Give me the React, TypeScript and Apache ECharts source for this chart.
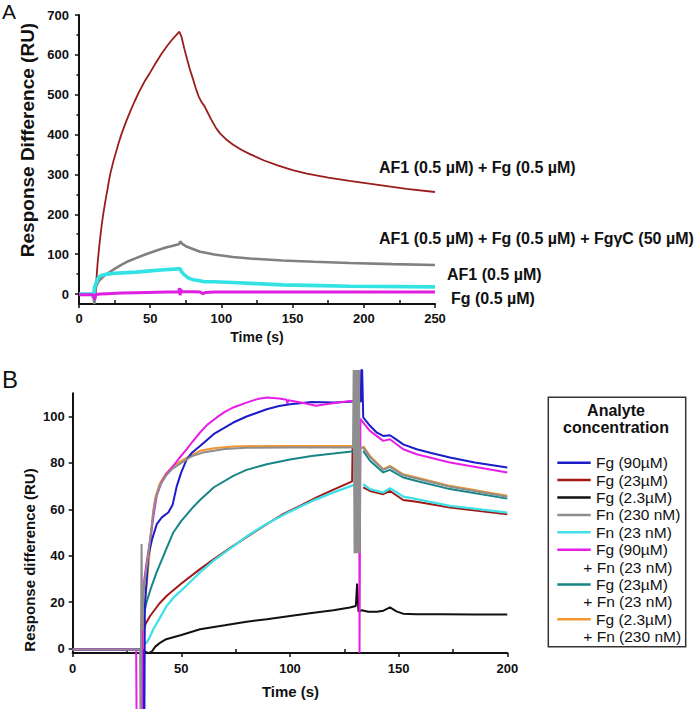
import React, { useEffect, useRef } from "react";
import * as echarts from "echarts";

// ---------- Panel A data: [time (s), response difference (RU)] ----------
const A_Y_TICKS = [0, 100, 200, 300, 400, 500, 600, 700];
const A_Y_MINOR = [50, 150, 250, 350, 450, 550, 650];
const A_X_MINOR = [25, 75, 125, 175, 225];

const A_AF1_FG = [
  [0, 0], [11, 0], [11.5, -12], [12, 25], [12.5, 50], [13, 75], [14, 112], [15, 145], [16, 175],
  [17, 200], [18, 222], [19, 243], [20, 262], [21, 284], [22, 302], [24, 331], [26, 356], [28, 381],
  [30, 403], [33, 432], [36, 458], [39, 483], [42, 506], [46, 533], [50, 556], [54, 580], [58, 603],
  [62, 623], [66, 641], [70.5, 658], [72, 645], [74, 615], [76, 588], [78, 562], [80, 540], [82, 516],
  [84, 496], [86, 482], [88, 472], [90, 458], [93, 437], [96, 418], [99, 403], [103, 389], [108, 375],
  [114, 362], [120, 351], [130, 335], [140, 322], [150, 311], [160, 302], [175, 292], [190, 284],
  [210, 274], [230, 264], [250, 256],
];
const A_AF1_FG_FGYC = [
  [0, 0], [10, 0], [10.8, -25], [11.5, 5], [12, 18], [13, 27], [14, 33], [16, 40], [18, 47], [21, 54],
  [25, 63], [30, 74], [35, 83], [40, 90], [47, 100], [55, 110], [61, 117], [66, 121], [70, 125],
  [71.3, 132], [72, 127], [75, 120], [80, 113], [85, 106], [88, 104], [95, 99], [108, 93], [120, 89],
  [143, 84], [165, 81], [190, 78], [220, 75], [250, 73],
];
const A_AF1 = [
  [0, 0], [9.5, 0], [10, -10], [10.5, 5], [11, 18], [12, 28], [13, 37], [14, 43], [16, 47], [20, 50],
  [25, 52], [30, 53], [40, 55], [50, 58], [60, 61], [70, 63], [71, 64], [72, 56], [74, 48], [77, 40],
  [80, 36], [84, 34], [88, 31], [95, 31], [108, 29], [125, 26], [143, 23], [170, 21], [190, 19.5],
  [250, 18],
];
const A_FG = [
  [0, -2], [10, -2], [10.5, -8], [11, -14], [11.5, -4], [12, -1], [15, 0], [20, 1], [30, 2.5],
  [40, 3.5], [55, 4.5], [70, 5.5], [70.6, 15], [71, -3], [71.5, 12], [72, 6], [80, 6], [85, 5],
  [87, 1], [89, 4], [95, 5], [150, 5], [250, 5],
];
const A_LABELS = [
  "AF1 (0.5 µM) + Fg (0.5 µM)",
  "AF1 (0.5 µM) + Fg (0.5 µM) + FgγC (50 µM)",
  "AF1 (0.5 µM)",
  "Fg (0.5 µM)",
];

// ---------- Panel B data ----------
const B_Y_TICKS = [0, 20, 40, 60, 80, 100];
const B_X_MINOR = [25, 75, 125, 175];

const B_FG90 = [
  [0, -0.5], [32.2, -0.5], [32.4, -30], [33, -30], [33.2, 18], [34.8, 40], [36.5, 47], [38.7, 53.6],
  [41, 56.5], [44, 58.6], [46, 62], [47.9, 70], [50, 76], [52.5, 81.6], [55, 84.5], [58.6, 87.3],
  [65, 92.5], [73.9, 97.4], [80, 100], [89.3, 103.1], [95, 104.5], [100, 105.3], [110, 106.3],
  [120, 106], [130, 106.5], [132.6, 106.5], [132.8, 120], [133.2, 120], [133.7, 99.6], [136.8, 96],
  [140, 93], [142.9, 91.6], [146, 91.9], [149, 90], [152.1, 88], [158.3, 85.9], [165, 84.3],
  [173.6, 82.3], [185, 80.2], [200, 78],
];
const B_FG23 = [
  [0, -0.5], [32.3, -0.5], [32.6, 7], [33.5, 10.5], [35.6, 14], [40, 19.5], [43.3, 22.7], [50, 28],
  [58.6, 34.2], [65, 38.5], [73.9, 44.2], [80, 48], [89.3, 53.6], [97, 58], [104.6, 61.5], [112, 65],
  [120, 68.5], [127.6, 71.6], [128.6, 72], [128.8, 87], [129.4, 87], [130, null], [133.7, 69.4],
  [136.8, 67.9], [142.9, 66.5], [146, 67.9], [152.1, 64], [158.3, 63.2], [173.6, 60.8], [200, 57.9],
];
const B_FG2 = [
  [0, -0.5], [32.5, -0.5], [33.5, -1.5], [35, -2], [36.5, -1.2], [38, 0.8], [40, 2.3], [43, 4],
  [50, 5.8], [58.6, 8.3], [70, 10], [80, 11.5], [89.3, 12.6], [100, 14], [110, 15.3], [120, 16.5],
  [127.6, 17.7], [130.3, 18.3], [130.9, 28], [131.5, 16], [133, 16.5], [136, 15.8], [140, 15.8],
  [143, 16.3], [146, 17.7], [149, 16], [152, 15], [158, 14.8], [170, 14.8], [185, 14.6], [200, 14.6],
];
const B_FN230 = [
  [0, -0.5], [31, -0.5], [31.2, -30], [31.5, -30], [31.7, 45], [32, 8], [32.5, 22], [33, 28],
  [34, 35], [35, 42], [36, 50], [37, 58], [38, 64], [40, 70], [43, 74.5], [46, 77.5], [50, 80],
  [55, 83], [60, 84.5], [70, 86], [80, 86.5], [100, 86.6], [129, 86.6], [129.3, 120], [129.7, 41],
  [130.1, 120], [130.5, 41], [130.9, 120], [131.3, 41], [131.7, 120], [132.1, 41], [132.4, 86.5],
  [133.7, 86.6], [136.8, 82.5], [142.9, 77], [146, 78.3], [152.1, 74.7], [158.3, 73.3],
  [173.6, 69.7], [200, 65.4],
];
const B_FN23 = [
  [0, -0.5], [32.4, -0.5], [32.8, 2], [34, 2.5], [35, 4], [37.1, 8.3], [40, 13], [43.3, 18.4],
  [47, 22.5], [50, 25], [55, 29.5], [58.6, 32.8], [65, 38], [73.9, 44], [80, 48.3], [89.3, 53.8],
  [100, 59], [110, 63.5], [120, 67.3], [129.5, 70.5], [131, null], [133.7, 70.8], [136.8, 68.7],
  [142.9, 67.2], [146, 69.1], [152.1, 65.5], [158.3, 64.4], [173.6, 61.5], [200, 58.6],
];
const B_FG90_FN23 = [
  [0, -0.5], [29.2, -0.5], [29.4, -30], [31.9, -30], [32.1, 20], [33, 30], [34, 37], [35.5, 46],
  [37, 56], [38.7, 66], [41, 72], [43, 75], [46.3, 78.7], [49, 82], [52.5, 85.9], [55, 89],
  [58.6, 93.1], [62, 96.5], [66.3, 99.6], [70, 102], [73.9, 103.9], [80, 106], [85, 107.5],
  [89.3, 108.2], [95, 107.8], [98.5, 107.2], [98.8, 105.5], [99.2, 107], [105, 106], [112, 104.6],
  [118, 105.5], [127.6, 106.7], [131.6, 106.8], [131.8, 120], [132, -2], [132.2, -2], [132.4, 99],
  [133.7, 97.4], [136.8, 93.8], [142.9, 89.5], [146, 90.2], [152.1, 85.9], [158.3, 83.7],
  [173.6, 80.2], [200, 75.9],
];
const B_FG23_FN23 = [
  [0, -0.5], [32.3, -0.5], [32.6, 14], [34, 20], [36, 26], [38.7, 33], [42, 40.5], [46.3, 50],
  [50, 55], [55, 60.5], [58.6, 64], [65, 69.5], [73.9, 74.4], [80, 77], [89.3, 79.4], [100, 81.5],
  [110, 83], [120, 84], [129.5, 85], [131, null], [133.7, 85.2], [136.8, 80.9], [142.9, 75.9],
  [146, 77], [152.1, 73.7], [158.3, 72.2], [173.6, 68.7], [200, 64.6],
];
const B_FG2_FN230 = [
  [0, -0.5], [32.3, -0.5], [32.5, 15], [34, 27], [35, 37], [36, 47], [37, 59], [38, 65], [40, 71],
  [43, 75.5], [46, 78.5], [50, 80.9], [55, 83.5], [58.6, 85.2], [65, 86.3], [73.9, 87.1], [90, 87.3],
  [129.5, 87.3], [131, null], [133.7, 87.3], [136.8, 83], [142.9, 77.3], [146, 78.7], [152.1, 75.1],
  [158.3, 73.7], [173.6, 70.1], [200, 65.8],
];

const B_LEGEND_TITLE = ["Analyte", "concentration"];
const B_LEGEND = [
  ["Fg (90µM)"],
  ["Fg (23µM)"],
  ["Fg (2.3µM)"],
  ["Fn (230 nM)"],
  ["Fn (23 nM)"],
  ["Fg (90µM)", "+ Fn (23 nM)"],
  ["Fg (23µM)", "+ Fn (23 nM)"],
  ["Fg (2.3µM)", "+ Fn (230 nM)"],
];

// ---------- styles ----------
const FONT = "'Liberation Sans', Arial, Helvetica, sans-serif";
const INK = "#111";
const A_COLORS = ["#9b1c1c", "#808080", "#33e3e3", "#e01ee0"];
const A_WIDTHS = [1.8, 2.6, 3.6, 3];
const B_COLORS = ["#1c1cc8", "#a01818", "#111111", "#8e8e8e", "#40e0e6", "#e81ee8", "#178585", "#f39430"];

function text(x: number, y: number, s: string, size: number, weight: string, align: string, rotation = 0) {
  return {
    type: "text",
    x,
    y,
    rotation,
    silent: true,
    style: {
      text: s,
      fontSize: size,
      fontWeight: weight,
      fontFamily: FONT,
      fill: INK,
      textAlign: align,
      align,
      textVerticalAlign: "middle",
      verticalAlign: "middle",
    },
  };
}

function mainAxis(extra: any) {
  return {
    type: "value",
    axisLine: { show: true, onZero: false, lineStyle: { color: INK, width: 2 } },
    axisTick: { show: true, length: 4, lineStyle: { color: INK, width: 1.5 } },
    axisLabel: { color: INK, fontSize: 13, fontWeight: "bold", fontFamily: FONT },
    splitLine: { show: false },
    ...extra,
  };
}

function minorAxis(extra: any, values: number[], inside: boolean, len: number) {
  return {
    type: "value",
    axisLine: { show: false, onZero: false },
    axisTick: { show: true, inside, length: len, customValues: values, lineStyle: { color: INK, width: 1.5 } },
    axisLabel: { show: false },
    splitLine: { show: false },
    ...extra,
  };
}

function buildOption() {
  const aData = [A_AF1_FG, A_AF1_FG_FGYC, A_AF1, A_FG];
  const aSeries = aData.map((d, i) => ({
    type: "line",
    xAxisIndex: 0,
    yAxisIndex: 0,
    data: d,
    showSymbol: false,
    symbol: "none",
    silent: true,
    clip: false,
    lineStyle: { color: A_COLORS[i], width: A_WIDTHS[i] },
  }));

  const bData = [B_FG90, B_FG23, B_FG2, B_FN230, B_FN23, B_FG90_FN23, B_FG23_FN23, B_FG2_FN230];
  const drawOrder = [2, 1, 4, 6, 7, 0, 5, 3];
  const bSeries = drawOrder.map((i) => ({
    type: "line",
    xAxisIndex: 2,
    yAxisIndex: 2,
    data: bData[i],
    showSymbol: false,
    symbol: "none",
    silent: true,
    clip: false,
    connectNulls: false,
    lineStyle: { color: B_COLORS[i], width: i === 4 ? 2.3 : 2 },
  }));

  const graphic: any[] = [];
  graphic.push(text(2, 11, "A", 21, "normal", "left"));
  graphic.push(text(2, 379, "B", 24, "normal", "left"));
  graphic.push(text(27, 140, "Response Difference (RU)", 19, "bold", "center", Math.PI / 2));
  graphic.push(text(29.5, 560, "Response difference (RU)", 15, "bold", "center", Math.PI / 2));
  graphic.push(text(257, 337, "Time (s)", 14, "bold", "center"));
  graphic.push(text(290.5, 691.5, "Time (s)", 15, "bold", "center"));

  const aLabelPos = [
    [379, 167],
    [379, 238],
    [447, 274],
    [451, 298],
  ];
  A_LABELS.forEach((s, i) => graphic.push(text(aLabelPos[i][0], aLabelPos[i][1], s, 16, "bold", "left")));

  // legend box for panel B
  graphic.push({
    type: "rect",
    silent: true,
    shape: { x: 548.3, y: 397.3, width: 137.4, height: 249.4 },
    style: { fill: "#fff", stroke: "#333", lineWidth: 1.5 },
  });
  graphic.push(text(616, 410, B_LEGEND_TITLE[0], 16, "bold", "center"));
  graphic.push(text(616, 427.5, B_LEGEND_TITLE[1], 16, "bold", "center"));
  let row = 0;
  const rowY = (r: number) => 462.7 + r * 17.4;
  B_LEGEND.forEach((lines, i) => {
    const y = rowY(row);
    graphic.push({
      type: "line",
      silent: true,
      shape: { x1: 557.3, y1: y, x2: 590.7, y2: y },
      style: { stroke: B_COLORS[i], lineWidth: 2.5 },
    });
    graphic.push(text(596, y, lines[0], 15.5, "normal", "left"));
    row++;
    if (lines[1]) {
      graphic.push(text(583.3, rowY(row), lines[1], 15.5, "normal", "left"));
      row++;
    }
  });

  return {
    animation: false,
    backgroundColor: "#fff",
    textStyle: { fontFamily: FONT },
    grid: [
      { left: 79, top: 15, width: 356, height: 289, containLabel: false },
      { left: 72.7, top: 393.3, width: 434.6, height: 259.8, containLabel: false },
    ],
    xAxis: [
      mainAxis({
        gridIndex: 0,
        position: "bottom",
        min: 0,
        max: 250,
        interval: 50,
        axisLabel: { color: INK, fontSize: 13, fontWeight: "bold", fontFamily: FONT, margin: 8 },
      }),
      minorAxis({ gridIndex: 0, position: "bottom", min: 0, max: 250 }, A_X_MINOR, true, 4),
      mainAxis({
        gridIndex: 1,
        position: "bottom",
        min: 0,
        max: 200,
        interval: 50,
        axisLabel: { color: INK, fontSize: 13, fontWeight: "bold", fontFamily: FONT, margin: 9 },
      }),
      minorAxis({ gridIndex: 1, position: "bottom", min: 0, max: 200 }, B_X_MINOR, true, 4),
    ],
    yAxis: [
      mainAxis({
        gridIndex: 0,
        position: "left",
        min: -25,
        max: 700,
        axisTick: { show: true, length: 4, customValues: A_Y_TICKS, lineStyle: { color: INK, width: 1.5 } },
        axisLabel: {
          color: INK,
          fontSize: 13,
          fontWeight: "bold",
          fontFamily: FONT,
          margin: 10,
          customValues: A_Y_TICKS,
        },
      }),
      minorAxis({ gridIndex: 0, position: "left", min: -25, max: 700 }, A_Y_MINOR, false, 2.5),
      mainAxis({
        gridIndex: 1,
        position: "left",
        min: -2,
        max: 110,
        axisTick: { show: true, length: 4, customValues: B_Y_TICKS, lineStyle: { color: INK, width: 1.5 } },
        axisLabel: {
          color: INK,
          fontSize: 13,
          fontWeight: "bold",
          fontFamily: FONT,
          margin: 8,
          customValues: B_Y_TICKS,
        },
      }),
    ],
    graphic,
    series: [...aSeries, ...bSeries],
  };
}

export default function App() {
  const ref = useRef<HTMLDivElement>(null);
  useEffect(() => {
    if (!ref.current) return;
    const chart = echarts.init(ref.current, undefined, { renderer: "svg" });
    chart.setOption(buildOption() as any);
    return () => chart.dispose();
  }, []);
  return (
    <div
      ref={ref}
      style={{ position: "absolute", left: 0, top: 0, width: 700, height: 709, background: "#fff" }}
    />
  );
}
